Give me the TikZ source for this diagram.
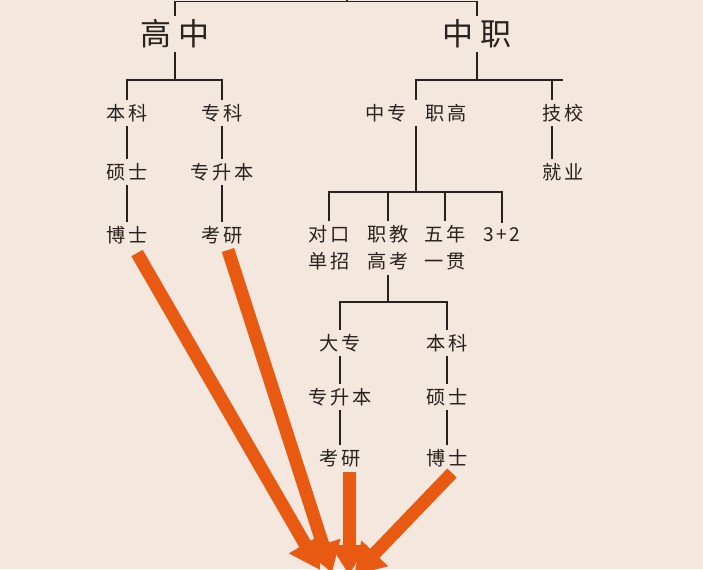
\documentclass[tikz,border=0pt]{standalone}
\usepackage{fontspec}
\usepackage{tikz}
\usetikzlibrary{positioning}
\usetikzlibrary{arrows.meta}
\newfontfamily\cjkfont[LetterSpace=14]{Noto Sans CJK SC}
\newfontfamily\cjkbigfont[LetterSpace=20]{Noto Sans CJK SC}
\definecolor{paperColor}{RGB}{243,231,222}
\definecolor{lineColor}{RGB}{40,33,30}
\definecolor{arrowColor}{RGB}{232,90,18}

\begin{document}
\begin{tikzpicture}[x=0.5pt,y=-0.5pt]

          \tikzstyle{textNode} = [lineColor, font=\cjkfont\fontsize{9.6}{13.5}\selectfont, inner sep=2pt, align=center];
          \tikzstyle{bigNode} = [lineColor, font=\cjkbigfont\fontsize{15.5}{18}\selectfont, inner sep=1.5pt];
          \tikzstyle{gapNode} = [textNode, inner xsep=0pt];

          \tikzstyle{treeEdge} = [lineColor, line width=0.9pt];
          \tikzstyle{arrowEdge} = [arrowColor, line width=6.5pt, -{Triangle[length=15pt,width=17.5pt]}];

          \fill[paperColor] (0,0) rectangle (703,569);
          \clip (0,0) rectangle (703,569);

          \node[bigNode] (gaozhong) at (175,34) {高中};
          \node[bigNode] (zhongzhi) at (477,34) {中职};

          \node[textNode] (benke) at (127,113) {本科};
          \node[textNode] (zhuanke) at (222,113) {专科};
          \node[textNode] (shuoshi) at (127,172) {硕士};
          \node[textNode] (zsb) at (222,172) {专升本};
          \node[textNode] (boshi) at (127,235) {博士};
          \node[textNode] (kaoyan) at (222,235) {考研};

          \node[gapNode] (zz) at (416,113) {\vphantom{中}};
          \node[textNode] (zhongzhuan) at (386,113) {中专};
          \node[textNode] (zhigao) at (446,113) {职高};
          \node[textNode] (jixiao) at (563,113) {技校};
          \node[textNode] (jiuye) at (563,172) {就业};

          \node[textNode] (duikou) at (329,248) {对口\\单招};
          \node[textNode] (zhijiao) at (388,248) {职教\\高考};
          \node[textNode] (wunian) at (445,248) {五年\\一贯};
          \node[textNode] (sanjiaer) at (502,235) {3+2\vphantom{口}};

          \node[textNode] (dazhuan) at (340,343) {大专};
          \node[textNode] (zsbB) at (340,397) {专升本};
          \node[textNode] (kaoyanB) at (340,458) {考研};
          \node[textNode] (benkeB) at (447,343) {本科};
          \node[textNode] (shuoshiB) at (447,397) {硕士};
          \node[textNode] (boshiB) at (447,458) {博士};

          \coordinate (topBar) at (347,1.5);
          \coordinate (topTick) at (347,-6);
          \coordinate (gzBar) at (175,80);
          \coordinate (zjBar) at (477,80);
          \coordinate (zjBarEnd) at (563,80);
          \coordinate (jxLine) at (552,80);
          \coordinate (zzBar) at (416,192);
          \coordinate (zjgkBar) at (388,302);

          \draw[treeEdge] (topBar) -- (topTick);
          \draw[treeEdge] (topBar) -| (gaozhong);
          \draw[treeEdge] (topBar) -| (zhongzhi);

          \draw[treeEdge] (gaozhong) -- (gzBar);
          \draw[treeEdge] (gzBar) -| (benke);
          \draw[treeEdge] (gzBar) -| (zhuanke);
          \draw[treeEdge] (benke) -- (shuoshi);
          \draw[treeEdge] (shuoshi) -- (boshi);
          \draw[treeEdge] (zhuanke) -- (zsb);
          \draw[treeEdge] (zsb) -- (kaoyan);

          \draw[treeEdge] (zhongzhi) -- (zjBar);
          \draw[treeEdge] (zjBar) -| (zz);
          \draw[treeEdge] (zjBar) -- (zjBarEnd);
          \draw[treeEdge] (jxLine) -- (jxLine |- jixiao.north);
          \draw[treeEdge] (jxLine |- jixiao.south) -- (jxLine |- jiuye.north);

          \draw[treeEdge] (zz) -- (zzBar);
          \draw[treeEdge] (zzBar) -| (duikou);
          \draw[treeEdge] (zzBar) -| (zhijiao);
          \draw[treeEdge] (zzBar) -| (wunian);
          \draw[treeEdge] (zzBar) -| (sanjiaer);

          \draw[treeEdge] (zhijiao) -- (zjgkBar);
          \draw[treeEdge] (zjgkBar) -| (dazhuan);
          \draw[treeEdge] (zjgkBar) -| (benkeB);
          \draw[treeEdge] (dazhuan) -- (zsbB);
          \draw[treeEdge] (zsbB) -- (kaoyanB);
          \draw[treeEdge] (benkeB) -- (shuoshiB);
          \draw[treeEdge] (shuoshiB) -- (boshiB);

          % orange arrows
          \coordinate (fromA) at (137,253);
          \coordinate (toA) at (320,570);
          \coordinate (fromB) at (228,250);
          \coordinate (toB) at (332,573);
          \coordinate (fromC) at (349,472);
          \coordinate (toC) at (349,575);
          \coordinate (fromD) at (452,473);
          \coordinate (toD) at (354,575);

          \draw[arrowEdge] (fromA) -- (toA);
          \draw[arrowEdge] (fromB) -- (toB);
          \draw[arrowEdge] (fromC) -- (toC);
          \draw[arrowEdge] (fromD) -- (toD);
        \end{tikzpicture}
\end{document}
